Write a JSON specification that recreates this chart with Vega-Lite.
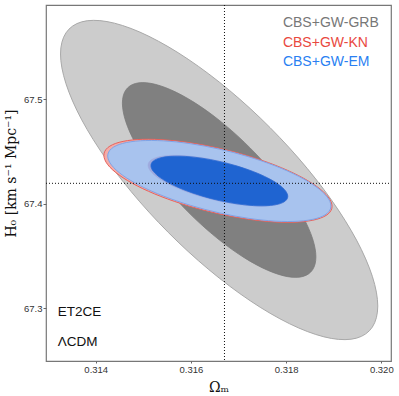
{
  "$schema": "https://vega.github.io/schema/vega-lite/v6.json",
  "width": 345,
  "height": 356,
  "autosize": {"type": "none"},
  "padding": {"left": 46, "top": 5, "right": 8, "bottom": 35},
  "background": "white",
  "config": {
    "view": {"stroke": "#777777", "strokeWidth": 1.2},
    "axis": {"grid": false, "domain": false, "labelFont": "Liberation Sans", "labelFontSize": 9.5, "labelColor": "#333333", "tickColor": "#666666", "titleFont": "DejaVu Serif", "titleFontWeight": "normal", "titleColor": "#111111"}
  },
  "datasets": {
    "grb2": [
      {"o":0,"x":0.319926,"y":67.30221},{"o":1,"x":0.319812,"y":67.33059},{"o":2,"x":0.319480,"y":67.36525},{"o":3,"x":0.318950,"y":67.40384},
      {"o":4,"x":0.318260,"y":67.44371},{"o":5,"x":0.317456,"y":67.48216},{"o":6,"x":0.316593,"y":67.51656},{"o":7,"x":0.315730,"y":67.54457},
      {"o":8,"x":0.314927,"y":67.56428},{"o":9,"x":0.314236,"y":67.57435},{"o":10,"x":0.313706,"y":67.57409},{"o":11,"x":0.313374,"y":67.56351},
      {"o":12,"x":0.313260,"y":67.54335},{"o":13,"x":0.313374,"y":67.51497},{"o":14,"x":0.313706,"y":67.48031},{"o":15,"x":0.314236,"y":67.44172},
      {"o":16,"x":0.314927,"y":67.40185},{"o":17,"x":0.315730,"y":67.36340},{"o":18,"x":0.316593,"y":67.32900},{"o":19,"x":0.317456,"y":67.30099},
      {"o":20,"x":0.318260,"y":67.28128},{"o":21,"x":0.318950,"y":67.27121},{"o":22,"x":0.319480,"y":67.27147},{"o":23,"x":0.319812,"y":67.28205}
    ],
    "grb1": [
      {"o":0,"x":0.318626,"y":67.34923},{"o":1,"x":0.318557,"y":67.36654},{"o":2,"x":0.318354,"y":67.38769},{"o":3,"x":0.318031,"y":67.41123},
      {"o":4,"x":0.317610,"y":67.43555},{"o":5,"x":0.317119,"y":67.45900},{"o":6,"x":0.316593,"y":67.47999},{"o":7,"x":0.316067,"y":67.49707},
      {"o":8,"x":0.315576,"y":67.50910},{"o":9,"x":0.315155,"y":67.51524},{"o":10,"x":0.314832,"y":67.51508},{"o":11,"x":0.314629,"y":67.50863},
      {"o":12,"x":0.314560,"y":67.49633},{"o":13,"x":0.314629,"y":67.47902},{"o":14,"x":0.314832,"y":67.45787},{"o":15,"x":0.315155,"y":67.43434},
      {"o":16,"x":0.315576,"y":67.41001},{"o":17,"x":0.316067,"y":67.38656},{"o":18,"x":0.316593,"y":67.36557},{"o":19,"x":0.317119,"y":67.34849},
      {"o":20,"x":0.317610,"y":67.33646},{"o":21,"x":0.318031,"y":67.33032},{"o":22,"x":0.318354,"y":67.33048},{"o":23,"x":0.318557,"y":67.33693}
    ],
    "kn2": [
      {"o":0,"x":0.318966,"y":67.39761},{"o":1,"x":0.318884,"y":67.40656},{"o":2,"x":0.318644,"y":67.41657},{"o":3,"x":0.318263,"y":67.42695},
      {"o":4,"x":0.317767,"y":67.43699},{"o":5,"x":0.317189,"y":67.44601},{"o":6,"x":0.316568,"y":67.45340},{"o":7,"x":0.315948,"y":67.45864},
      {"o":8,"x":0.315369,"y":67.46139},{"o":9,"x":0.314873,"y":67.46146},{"o":10,"x":0.314492,"y":67.45884},{"o":11,"x":0.314252,"y":67.45371},
      {"o":12,"x":0.314171,"y":67.44641},{"o":13,"x":0.314252,"y":67.43746},{"o":14,"x":0.314492,"y":67.42745},{"o":15,"x":0.314873,"y":67.41707},
      {"o":16,"x":0.315369,"y":67.40703},{"o":17,"x":0.315948,"y":67.39801},{"o":18,"x":0.316568,"y":67.39062},{"o":19,"x":0.317189,"y":67.38538},
      {"o":20,"x":0.317767,"y":67.38263},{"o":21,"x":0.318263,"y":67.38256},{"o":22,"x":0.318644,"y":67.38518},{"o":23,"x":0.318884,"y":67.39031}
    ],
    "kn1": [
      {"o":0,"x":0.318038,"y":67.40705},{"o":1,"x":0.317988,"y":67.41254},{"o":2,"x":0.317841,"y":67.41868},{"o":3,"x":0.317607,"y":67.42504},
      {"o":4,"x":0.317303,"y":67.43119},{"o":5,"x":0.316948,"y":67.43672},{"o":6,"x":0.316568,"y":67.44125},{"o":7,"x":0.316188,"y":67.44447},
      {"o":8,"x":0.315833,"y":67.44615},{"o":9,"x":0.315529,"y":67.44619},{"o":10,"x":0.315295,"y":67.44459},{"o":11,"x":0.315148,"y":67.44144},
      {"o":12,"x":0.315098,"y":67.43697},{"o":13,"x":0.315148,"y":67.43148},{"o":14,"x":0.315295,"y":67.42534},{"o":15,"x":0.315529,"y":67.41898},
      {"o":16,"x":0.315833,"y":67.41283},{"o":17,"x":0.316188,"y":67.40730},{"o":18,"x":0.316568,"y":67.40277},{"o":19,"x":0.316948,"y":67.39955},
      {"o":20,"x":0.317303,"y":67.39787},{"o":21,"x":0.317607,"y":67.39783},{"o":22,"x":0.317841,"y":67.39943},{"o":23,"x":0.317988,"y":67.40258}
    ],
    "em2": [
      {"o":0,"x":0.318942,"y":67.39790},{"o":1,"x":0.318862,"y":67.40661},{"o":2,"x":0.318628,"y":67.41637},{"o":3,"x":0.318255,"y":67.42649},
      {"o":4,"x":0.317770,"y":67.43629},{"o":5,"x":0.317204,"y":67.44511},{"o":6,"x":0.316597,"y":67.45235},{"o":7,"x":0.315990,"y":67.45750},
      {"o":8,"x":0.315425,"y":67.46022},{"o":9,"x":0.314939,"y":67.46032},{"o":10,"x":0.314566,"y":67.45780},{"o":11,"x":0.314332,"y":67.45283},
      {"o":12,"x":0.314252,"y":67.44574},{"o":13,"x":0.314332,"y":67.43703},{"o":14,"x":0.314566,"y":67.42728},{"o":15,"x":0.314939,"y":67.41715},
      {"o":16,"x":0.315425,"y":67.40735},{"o":17,"x":0.315990,"y":67.39853},{"o":18,"x":0.316597,"y":67.39129},{"o":19,"x":0.317204,"y":67.38614},
      {"o":20,"x":0.317770,"y":67.38342},{"o":21,"x":0.318255,"y":67.38332},{"o":22,"x":0.318628,"y":67.38584},{"o":23,"x":0.318862,"y":67.39081}
    ],
    "em1": [
      {"o":0,"x":0.318034,"y":67.40716},{"o":1,"x":0.317985,"y":67.41250},{"o":2,"x":0.317842,"y":67.41848},{"o":3,"x":0.317613,"y":67.42468},
      {"o":4,"x":0.317316,"y":67.43069},{"o":5,"x":0.316969,"y":67.43610},{"o":6,"x":0.316597,"y":67.44053},{"o":7,"x":0.316225,"y":67.44369},
      {"o":8,"x":0.315878,"y":67.44536},{"o":9,"x":0.315581,"y":67.44542},{"o":10,"x":0.315352,"y":67.44388},{"o":11,"x":0.315209,"y":67.44083},
      {"o":12,"x":0.315160,"y":67.43649},{"o":13,"x":0.315209,"y":67.43114},{"o":14,"x":0.315352,"y":67.42516},{"o":15,"x":0.315581,"y":67.41896},
      {"o":16,"x":0.315878,"y":67.41295},{"o":17,"x":0.316225,"y":67.40754},{"o":18,"x":0.316597,"y":67.40311},{"o":19,"x":0.316969,"y":67.39995},
      {"o":20,"x":0.317316,"y":67.39828},{"o":21,"x":0.317613,"y":67.39822},{"o":22,"x":0.317842,"y":67.39976},{"o":23,"x":0.317985,"y":67.40281}
    ],
    "legend": [
      {"label":"CBS+GW-GRB","x":0.317933,"y":67.5727},
      {"label":"CBS+GW-KN","x":0.317933,"y":67.5536},
      {"label":"CBS+GW-EM","x":0.317933,"y":67.5354}
    ],
    "notes": [
      {"label":"ET2CE","x":0.313201,"y":67.2965},
      {"label":"ΛCDM","x":0.313201,"y":67.2680}
    ],
    "fid": [{"om":0.316705,"h0":67.4196}]
  },
  "encoding": {
    "x": {"field": "x", "type": "quantitative", "scale": {"domain": [0.312955, 0.320204], "nice": false, "zero": false},
      "axis": {"values": [0.314, 0.316, 0.318, 0.320], "format": ".3f", "tickSize": 2, "labelPadding": 1, "title": "Ωₘ", "titleFontSize": 14, "titlePadding": 7}},
    "y": {"field": "y", "type": "quantitative", "scale": {"domain": [67.2496, 67.5902], "nice": false, "zero": false},
      "axis": {"values": [67.3, 67.4, 67.5], "format": ".1f", "tickSize": 3, "labelPadding": 1, "title": "H₀ [km s⁻¹ Mpc⁻¹]", "titleFontSize": 14, "titlePadding": 5, "titleY": 168}}
  },
  "layer": [
    {"data": {"name": "grb2"}, "mark": {"type": "line", "interpolate": "cardinal-closed", "fill": "#cccccc", "stroke": "#a9a9a9", "strokeWidth": 1, "clip": true}, "encoding": {"order": {"field": "o"}}},
    {"data": {"name": "grb1"}, "mark": {"type": "line", "interpolate": "cardinal-closed", "fill": "#808080", "stroke": "#7a7a7a", "strokeWidth": 0.8, "clip": true}, "encoding": {"order": {"field": "o"}}},
    {"data": {"name": "kn2"}, "mark": {"type": "line", "interpolate": "cardinal-closed", "fill": "#f3aca8", "stroke": "#e8625c", "strokeWidth": 1, "clip": true}, "encoding": {"order": {"field": "o"}}},
    {"data": {"name": "em2"}, "mark": {"type": "line", "interpolate": "cardinal-closed", "fill": "#a8c3ee", "stroke": "#7ea4e8", "strokeWidth": 1, "clip": true}, "encoding": {"order": {"field": "o"}}},
    {"data": {"name": "kn1"}, "mark": {"type": "line", "interpolate": "cardinal-closed", "fill": "#9eaadf", "stroke": "#9eaadf", "strokeWidth": 0.5, "clip": true}, "encoding": {"order": {"field": "o"}}},
    {"data": {"name": "em1"}, "mark": {"type": "line", "interpolate": "cardinal-closed", "fill": "#1f64d1", "stroke": "#2a6bd3", "strokeWidth": 0.8, "clip": true}, "encoding": {"order": {"field": "o"}}},
    {"data": {"name": "fid"}, "mark": {"type": "rule", "color": "#111111", "strokeWidth": 1, "strokeDash": [1, 2]}, "encoding": {"x": {"field": "om", "type": "quantitative"}, "y": {"value": 0}, "y2": {"value": 356}}},
    {"data": {"name": "fid"}, "mark": {"type": "rule", "color": "#111111", "strokeWidth": 1, "strokeDash": [1, 2]}, "encoding": {"y": {"field": "h0", "type": "quantitative"}, "x": {"value": 0}, "x2": {"value": 345}}},
    {"data": {"name": "legend"}, "mark": {"type": "text", "align": "left", "baseline": "middle", "font": "Liberation Sans", "fontSize": 14},
      "encoding": {"text": {"field": "label"}, "color": {"field": "label", "type": "nominal", "scale": {"domain": ["CBS+GW-GRB", "CBS+GW-KN", "CBS+GW-EM"], "range": ["#777777", "#e9483e", "#2a7ff2"]}, "legend": null}}},
    {"data": {"name": "notes"}, "mark": {"type": "text", "align": "left", "baseline": "middle", "font": "Liberation Sans", "fontSize": 13.5, "color": "#111111"},
      "encoding": {"text": {"field": "label"}}}
  ]
}
